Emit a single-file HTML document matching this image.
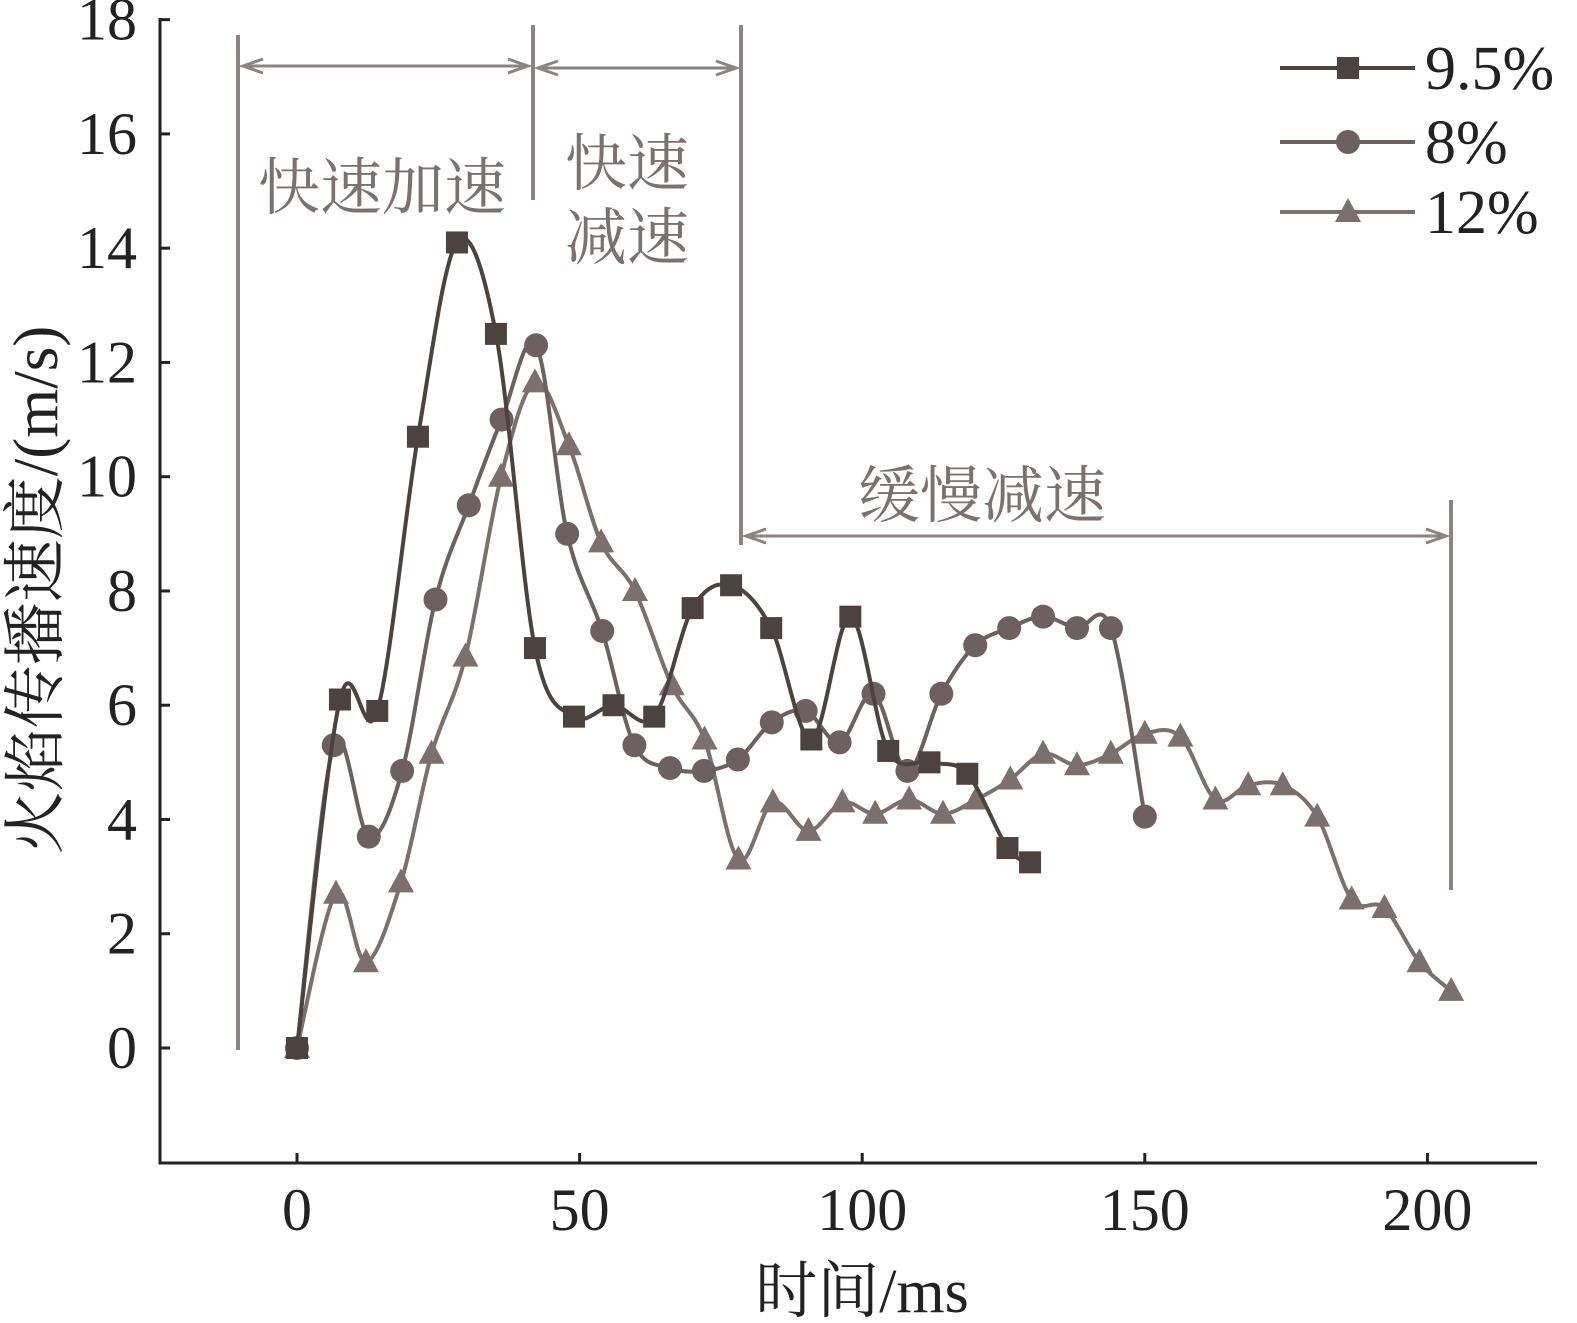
<!DOCTYPE html>
<html><head><meta charset="utf-8"><style>
html,body{margin:0;padding:0;background:#fff;}
svg{display:block;}
text{font-family:"Liberation Serif","Noto Serif CJK SC",serif;}
.cjk{font-family:"Liberation Serif","Noto Serif CJK SC","Noto Sans CJK SC",serif;}
</style></head><body>
<svg id="chart" width="1577" height="1323" viewBox="0 0 1577 1323" xmlns="http://www.w3.org/2000/svg">
<g id="axes"></g>
<g id="annot"></g>
<g id="series"></g>
<g id="legend"></g>
</svg>
<script>
const xTicks=[0,50,100,150,200];
const yTicks=[0,2,4,6,8,10,12,14,16,18];
const s95T=[0,7.6,14.2,21.4,28.3,35.2,42.1,49,56,63.2,70,76.8,83.9,91,97.9,104.6,111.9,118.6,125.7,129.7];
const s95V=[0,6.1,5.9,10.7,14.1,12.5,7,5.8,6,5.8,7.7,8.1,7.35,5.4,7.55,5.2,5,4.8,3.5,3.25];
const s8T=[0,6.5,12.7,18.6,24.5,30.4,36.2,42.3,47.8,54,59.7,66,72,78,84,90,96,102,108,114,120,126,132,138,144,150];
const s8V=[0,5.3,3.7,4.85,7.85,9.5,11,12.3,9,7.3,5.3,4.9,4.85,5.05,5.7,5.9,5.35,6.2,4.85,6.2,7.05,7.35,7.55,7.35,7.35,4.05];
const s12T=[0,6.9,12.2,18.4,23.8,29.8,36.1,42.1,48.1,53.8,59.8,66.3,72.1,78.1,84.2,90.5,96.5,102.3,108.3,114.3,120.2,126.2,132,138,144,150,156.3,162.5,168.3,174.4,180.5,186.6,192.4,198.6,204.2];
const s12V=[0,2.7,1.5,2.9,5.15,6.85,10,11.65,10.55,8.85,8,6.35,5.4,3.3,4.3,3.8,4.3,4.1,4.35,4.1,4.35,4.7,5.15,4.95,5.15,5.5,5.45,4.35,4.6,4.6,4.05,2.6,2.45,1.5,1];

const NS="http://www.w3.org/2000/svg";
const X=t=>297+t*5.652;
const Y=v=>1048-v*57.13;
function mk(tag,attrs,parent){const e=document.createElementNS(NS,tag);for(const k in attrs)e.setAttribute(k,attrs[k]);parent.appendChild(e);return e;}
const axes=document.getElementById('axes');
let e=mk('path',{d:'M160,18 V1163 H1537',fill:'none',stroke:'#222','stroke-width':3},axes);


yTicks.forEach(v=>{
 let t=mk('line',{x1:160,x2:170,y1:Y(v),y2:Y(v),stroke:'#222','stroke-width':3},axes);
 
 
 let l=mk('text',{x:137,y:Y(v)+20,'text-anchor':'end','font-size':60,fill:'#222'},axes);l.textContent=v;
 
 
});
xTicks.forEach(v=>{
 let t=mk('line',{x1:X(v),x2:X(v),y1:1163,y2:1153,stroke:'#222','stroke-width':3},axes);
 
 
 let l=mk('text',{x:X(v),y:1230,'text-anchor':'middle','font-size':60,fill:'#222'},axes);l.textContent=v;
 
 
});
let xt=mk('text',{x:862,y:1312,'text-anchor':'middle','font-size':62,fill:'#222',class:'cjk'},axes);xt.textContent='时间/ms';


let yt=mk('text',{x:0,y:0,'text-anchor':'middle','font-size':63,fill:'#222',class:'cjk',transform:'translate(57,590) rotate(-90)'},axes);yt.textContent='火焰传播速度/(m/s)';



const an=document.getElementById('annot');const G='#8c8483';
[[238,35,1050],[533,25,200],[741,25,545],[1451,500,890]].forEach(a=>{
 let l=mk('line',{x1:a[0],x2:a[0],y1:a[1],y2:a[2],stroke:G,'stroke-width':4},an);
 
 
});
function arrow(x1,x2,y){
 let g=mk('path',{d:`M${x1},${y} H${x2} M${x1+20},${y-7} L${x1},${y} L${x1+20},${y+7} M${x2-20},${y-7} L${x2},${y} L${x2-20},${y+7}`,fill:'none',stroke:G,'stroke-width':3},an);
 
 
}
arrow(243,528,66);arrow(538,736,68);arrow(746,1446,536);
[['快速加速',258,209],['快速',565,185],['减速',565,259],['缓慢减速',858,517]].forEach(a=>{
 let t=mk('text',{x:a[1],y:a[2],'font-size':62,fill:'#7a7170',class:'cjk'},an);t.textContent=a[0];
 
 
});

const sg=document.getElementById('series');
function smooth(pts){let d=`M${pts[0][0]},${pts[0][1]}`;for(let i=0;i<pts.length-1;i++){const p0=pts[Math.max(0,i-1)],p1=pts[i],p2=pts[i+1],p3=pts[Math.min(pts.length-1,i+2)];const c1=[p1[0]+(p2[0]-p0[0])/6,p1[1]+(p2[1]-p0[1])/6],c2=[p2[0]-(p3[0]-p1[0])/6,p2[1]-(p3[1]-p1[1])/6];d+=` C${c1[0]},${c1[1]} ${c2[0]},${c2[1]} ${p2[0]},${p2[1]}`;}return d;}
function marker(type,x,y,c,parent){
 let m;
 if(type==='sq')m=mk('rect',{x:x-11,y:y-11,width:22,height:22,fill:c},parent);
 else if(type==='ci')m=mk('circle',{cx:x,cy:y,r:12,fill:c},parent);
 else m=mk('polygon',{points:`${x},${y-14} ${x-13},${y+10} ${x+13},${y+10}`,fill:c},parent);
 return m;
}
function series(T,V,type,c,name){
 const g=mk('g',{},sg);
 
 
 const pts=T.map((t,i)=>[X(t),Y(V[i])]);
 let p=mk('path',{d:smooth(pts),fill:'none',stroke:c,'stroke-width':4},g);
 
 
 pts.forEach(q=>{let m=marker(type,q[0],q[1],c,g);
  
  });
}
series(s12T,s12V,'tr','#7b706d','series-12pct');
series(s8T,s8V,'ci','#6c6160','series-8pct');
series(s95T,s95V,'sq','#4c4240','series-9-5pct');

const lg=document.getElementById('legend');
[['9.5%','sq','#4c4240',68],['8%','ci','#6c6160',142],['12%','tr','#7b706d',212]].forEach(a=>{
 const g=mk('g',{},lg);
 
 
 mk('line',{x1:1280,x2:1415,y1:a[3],y2:a[3],stroke:a[2],'stroke-width':4},g);
 marker(a[1],1348,a[3],a[2],g);
 let t=mk('text',{x:1425,y:a[3]+21,'font-size':62,fill:'#222'},g);t.textContent=a[0];
});
</script>
</body></html>
